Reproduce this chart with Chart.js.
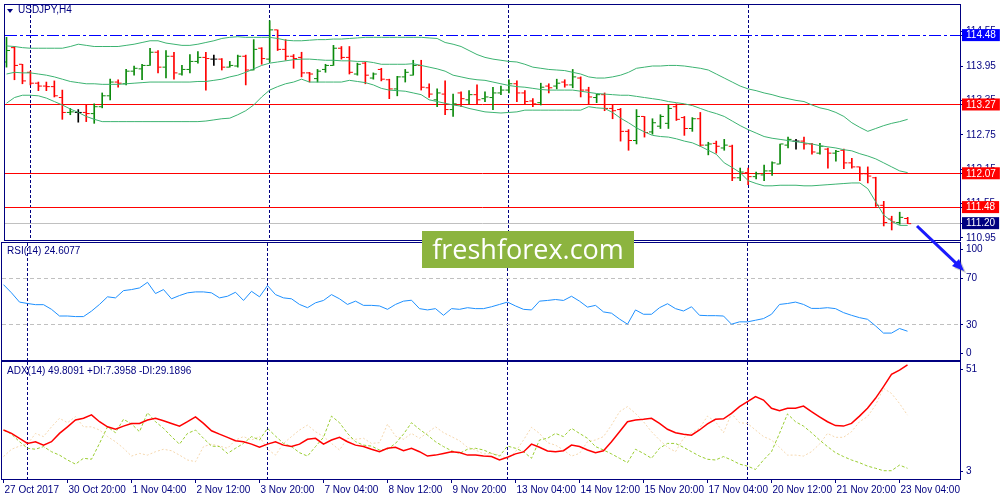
<!DOCTYPE html>
<html>
<head>
<meta charset="utf-8">
<title>USDJPY H4</title>
<script src="https://cdn.jsdelivr.net/npm/chart.js@4.4.1/dist/chart.umd.min.js"></script>
<style>
  html, body { margin: 0; padding: 0; background: #fff; }
  #wrap { position: relative; width: 1000px; height: 500px; overflow: hidden; }
  canvas { position: absolute; left: 0; }
  #cMain { top: 0; }
  #cRsi { top: 240px; }
  #cAdx { top: 360px; }
  .cap { position: absolute; color: #000080; font: 10px 'Liberation Sans', Arial, sans-serif; white-space: nowrap; }
  #tri { position: absolute; left: 7px; top: 9px; width: 0; height: 0;
         border-left: 3px solid transparent; border-right: 3px solid transparent; border-top: 4px solid #000080; }
  #sym { left: 18px; top: 4px; }
  #rsiCap { left: 7px; top: 245px; }
  #adxCap { left: 7px; top: 365px; }
  #logo { position: absolute; left: 422px; top: 231px; width: 212px; height: 37px; background: #8cb43f;
          color: #fff; font: 27px 'Open Sans', sans-serif; line-height: 36px; text-align: center; }
  #arrow { position: absolute; left: 0; top: 0; }
</style>
</head>
<body>
<div id="wrap">
  <canvas id="cMain" width="1000" height="250"></canvas>
  <canvas id="cRsi" width="1000" height="130"></canvas>
  <canvas id="cAdx" width="1000" height="140"></canvas>
  <div id="tri"></div>
  <div class="cap" id="sym">USDJPY,H4</div>
  <div class="cap" id="rsiCap">RSI(14) 24.6077</div>
  <div class="cap" id="adxCap">ADX(14) 49.8091 +DI:7.3958 -DI:29.1896</div>
  <div id="logo">freshforex.com</div>
  <svg id="arrow" width="1000" height="500">
    <g transform="translate(2,2)" opacity="0.3">
      <line x1="917" y1="226" x2="957" y2="264" stroke="#555" stroke-width="3"/>
      <polygon points="964,271 952,266 959,259" fill="#555"/>
    </g>
    <line x1="917" y1="226" x2="957" y2="264" stroke="#1a1aff" stroke-width="3"/>
    <polygon points="964,271 952,266 959,259" fill="#1a1aff"/>
  </svg>
</div>
<script>
// USDJPY H4, 27 Oct - 23 Nov 2017

const timeLabels = ['27 Oct 2017', '30 Oct 20:00', '1 Nov 04:00', '2 Nov 12:00', '3 Nov 20:00',
  '7 Nov 04:00', '8 Nov 12:00', '9 Nov 20:00', '13 Nov 04:00', '14 Nov 12:00', '15 Nov 20:00',
  '17 Nov 04:00', '20 Nov 12:00', '21 Nov 20:00', '23 Nov 04:00'];

const opens = [114.02,114.27,113.98,113.84,113.65,113.60,113.59,113.40,113.14,113.14,
  113.14,113.12,113.24,113.43,113.67,113.64,113.86,113.90,113.96,114.19,
  113.93,114.12,113.81,113.89,114.03,114.10,114.07,114.07,113.93,113.95,
  114.12,113.88,114.26,114.07,114.58,114.24,114.12,114.10,113.83,113.73,
  113.89,113.96,114.26,114.10,113.81,114.00,113.74,113.89,113.71,113.55,
  113.76,113.79,113.96,113.57,113.36,113.46,113.19,113.48,113.36,113.45,
  113.38,113.40,113.48,113.53,113.64,113.48,113.34,113.31,113.60,113.60,
  113.67,113.62,113.74,113.53,113.40,113.45,113.21,113.19,112.81,112.65,
  113.07,112.80,112.90,112.95,113.24,113.05,112.86,113.03,112.57,112.60,
  112.52,112.55,112.00,112.09,112.02,112.05,112.12,112.24,112.57,112.64,
  112.64,112.59,112.43,112.50,112.43,112.48,112.26,112.19,112.07,112.00,
  111.52,111.28,111.22,111.29];
const highs = [114.45,114.29,113.98,113.86,113.67,113.67,113.69,113.53,113.21,113.19,
  113.27,113.29,113.48,113.72,113.71,113.89,113.95,113.98,114.26,114.22,
  114.22,114.19,113.96,114.15,114.20,114.19,114.14,114.08,114.03,114.14,
  114.14,114.41,114.27,114.74,114.58,114.41,114.15,114.19,113.84,113.89,
  113.98,114.31,114.29,114.29,114.00,114.02,113.83,113.91,113.72,113.77,
  113.89,114.05,114.05,113.64,113.55,113.69,113.46,113.50,113.52,113.62,
  113.50,113.58,113.60,113.71,113.69,113.52,113.38,113.65,113.64,113.72,
  113.71,113.89,113.76,113.58,113.46,113.48,113.27,113.21,112.84,113.19,
  113.07,113.03,113.10,113.27,113.29,113.07,113.05,113.14,112.62,112.64,
  112.67,112.57,112.17,112.17,112.10,112.22,112.28,112.59,112.71,112.67,
  112.71,112.60,112.60,112.52,112.48,112.50,112.34,112.19,112.19,112.01,
  111.59,111.33,111.40,111.31];
const lows = [113.93,113.71,113.64,113.62,113.52,113.52,113.41,113.02,113.10,112.97,
  112.98,112.95,113.22,113.36,113.58,113.62,113.79,113.71,113.96,113.83,
  113.74,113.72,113.79,113.83,114.00,113.53,113.96,113.88,113.93,113.93,
  113.62,113.88,113.98,114.02,114.22,114.05,113.91,113.76,113.67,113.67,
  113.84,113.96,114.07,113.81,113.79,113.64,113.72,113.69,113.38,113.43,
  113.67,113.79,113.53,113.40,113.24,113.10,113.07,113.24,113.29,113.29,
  113.33,113.19,113.45,113.48,113.33,113.29,113.24,113.27,113.48,113.55,
  113.58,113.57,113.41,113.29,113.31,113.17,113.03,112.64,112.48,112.59,
  112.71,112.76,112.86,112.86,113.00,112.74,112.81,112.55,112.40,112.43,
  112.48,111.95,111.95,111.88,111.98,111.95,112.04,112.24,112.52,112.50,
  112.50,112.41,112.41,112.17,112.29,112.16,112.17,111.95,111.91,111.50,
  111.16,111.09,111.19,111.20];
const closes = [114.22,113.96,113.69,113.65,113.60,113.59,113.43,113.14,113.15,113.14,
  113.12,113.24,113.43,113.67,113.65,113.86,113.91,113.96,114.19,113.93,
  114.12,113.83,113.89,114.03,114.10,114.08,114.07,113.93,113.96,114.12,
  113.88,114.24,114.08,114.58,114.24,114.12,114.08,113.83,113.81,113.86,
  113.96,114.26,114.10,113.84,113.98,113.79,113.81,113.72,113.55,113.76,
  113.84,113.96,113.58,113.46,113.48,113.19,113.29,113.38,113.45,113.36,
  113.41,113.48,113.53,113.64,113.48,113.33,113.29,113.58,113.57,113.65,
  113.62,113.76,113.53,113.41,113.45,113.21,113.17,112.81,112.65,113.07,
  112.79,112.96,113.07,113.21,113.02,112.86,113.03,112.57,112.59,112.55,
  112.57,112.00,112.10,112.02,112.07,112.12,112.26,112.59,112.67,112.64,
  112.59,112.45,112.55,112.43,112.46,112.26,112.19,112.07,112.03,111.52,
  111.22,111.23,111.31,111.20];

// Bollinger bands
const bbUpper = [114.30,114.29,114.27,114.26,114.26,114.26,114.26,114.26,114.29,114.33,
  114.31,114.29,114.29,114.29,114.29,114.31,114.33,114.36,114.39,114.39,
  114.35,114.33,114.31,114.31,114.33,114.36,114.39,114.43,114.45,114.46,
  114.45,114.45,114.45,114.45,114.43,114.40,114.39,114.39,114.40,114.41,
  114.41,114.42,114.42,114.43,114.44,114.45,114.45,114.45,114.45,114.45,
  114.45,114.45,114.45,114.44,114.43,114.36,114.33,114.29,114.22,114.15,
  114.10,114.07,114.05,114.03,114.02,113.98,113.93,113.91,113.89,113.88,
  113.87,113.84,113.81,113.76,113.74,113.74,113.76,113.79,113.84,113.91,
  113.93,113.95,113.95,113.96,113.96,113.95,113.93,113.91,113.88,113.81,
  113.74,113.67,113.60,113.55,113.52,113.48,113.45,113.41,113.38,113.35,
  113.33,113.27,113.22,113.19,113.14,113.07,112.96,112.88,112.81,112.86,
  112.91,112.95,112.98,113.02];
const bbMiddle = [113.81,113.84,113.83,113.83,113.81,113.79,113.76,113.72,113.68,113.66,
  113.64,113.64,113.63,113.63,113.63,113.64,113.65,113.66,113.67,113.67,
  113.67,113.67,113.67,113.67,113.68,113.68,113.70,113.72,113.76,113.79,
  113.84,113.90,113.96,114.00,114.02,114.04,114.06,114.07,114.07,114.06,
  114.05,114.05,114.04,114.04,114.03,114.03,114.01,113.98,113.98,113.98,
  113.98,113.99,113.96,113.93,113.90,113.86,113.79,113.76,113.73,113.71,
  113.70,113.67,113.64,113.61,113.59,113.58,113.56,113.54,113.53,113.53,
  113.53,113.53,113.51,113.49,113.47,113.46,113.45,113.44,113.44,113.42,
  113.40,113.38,113.36,113.33,113.31,113.29,113.26,113.21,113.16,113.12,
  113.07,112.99,112.91,112.84,112.78,112.72,112.69,112.67,112.65,112.63,
  112.61,112.59,112.56,112.54,112.52,112.49,112.47,112.42,112.38,112.33,
  112.26,112.19,112.12,112.09];
const bbLower = [113.30,113.40,113.44,113.44,113.43,113.39,113.33,113.27,113.20,113.14,
  113.07,113.02,112.98,112.98,112.98,112.98,112.98,112.98,112.98,112.98,
  112.98,112.98,112.98,112.98,112.98,112.99,113.01,113.03,113.04,113.10,
  113.17,113.27,113.41,113.53,113.59,113.64,113.67,113.72,113.67,113.67,
  113.67,113.67,113.67,113.70,113.68,113.66,113.62,113.56,113.53,113.52,
  113.51,113.48,113.45,113.36,113.33,113.30,113.27,113.25,113.21,113.18,
  113.15,113.14,113.13,113.14,113.15,113.18,113.18,113.18,113.18,113.18,
  113.18,113.18,113.18,113.24,113.22,113.21,113.14,113.04,112.96,112.87,
  112.80,112.74,112.72,112.71,112.68,112.64,112.61,112.55,112.48,112.41,
  112.26,112.18,112.09,111.95,111.90,111.86,111.86,111.87,111.87,111.87,
  111.86,111.86,111.87,111.88,111.89,111.90,111.91,111.91,111.81,111.58,
  111.35,111.24,111.17,111.17];

const rsi = [64.4,57.4,49.5,48.3,47.3,47.3,43.3,37.6,37.6,37.1,
  37.1,41.8,47.5,54.0,53.1,59.3,60.2,61.6,66.4,56.8,
  60.2,52.3,55.1,57.4,58.2,58.2,57.4,53.1,54.5,57.9,
  50.9,58.7,54.0,63.6,55.9,53.1,52.3,47.5,44.7,48.9,
  50.9,55.9,52.3,47.5,50.3,46.7,46.7,46.2,43.3,47.5,
  50.3,51.1,43.9,42.8,43.9,38.2,43.9,43.3,44.7,43.9,
  43.9,45.5,47.5,49.5,46.2,43.3,42.8,50.3,50.9,51.7,
  50.9,54.5,50.3,45.2,46.7,41.1,40.0,35.0,30.6,42.8,
  39.1,39.1,44.7,48.1,43.9,41.9,45.5,38.2,37.9,37.9,
  37.6,30.6,32.6,32.6,34.0,35.4,39.1,47.5,48.3,49.5,
  47.5,44.1,44.1,44.7,43.9,40.5,38.2,36.2,34.8,29.2,
  23.0,23.0,26.9,24.6077];

const adx = [23.1,21.7,19.7,17.6,18.3,16.9,18.3,21.7,24.4,27.2,
  27.9,29.3,26.5,24.4,23.4,24.7,25.8,25.8,27.2,27.9,
  26.9,25.8,24.7,26.5,28.5,25.8,22.8,21.4,20.1,18.7,
  18.3,17.3,16.0,17.3,18.3,16.9,16.3,17.3,19.3,19.7,
  17.3,19.0,20.1,18.3,16.9,16.3,15.2,14.2,15.6,16.0,
  14.6,15.6,14.2,12.4,12.8,13.5,14.2,13.9,12.8,12.8,
  12.4,12.2,10.8,11.9,13.3,14.1,17.3,16.0,14.5,14.2,
  14.6,16.9,16.3,14.9,13.8,14.6,18.3,22.4,26.5,27.2,
  27.5,27.9,25.8,23.4,22.0,21.4,21.0,23.1,25.6,27.5,
  27.7,29.9,32.7,34.7,36.8,35.4,32.0,31.0,32.0,32.0,
  32.9,30.6,28.5,26.5,24.9,24.7,25.8,28.8,32.0,36.1,
  40.9,45.9,47.7,49.8091];
const plusDI = [23.1,21.4,18.3,15.6,15.2,16.3,14.2,12.8,10.8,9.1,
  11.5,11.1,17.6,24.4,22.0,27.5,25.6,22.4,30.2,26.5,
  23.8,20.4,17.3,21.7,23.1,19.7,16.5,16.3,13.5,15.6,
  17.6,20.4,19.0,23.8,20.6,17.6,16.3,13.8,12.4,16.3,
  20.1,28.8,26.1,21.7,18.3,16.9,16.5,14.9,15.2,17.6,
  21.4,26.1,23.4,21.0,18.3,16.3,14.6,13.5,15.2,15.6,
  14.9,13.5,12.4,16.5,15.6,14.2,11.5,19.0,19.7,21.7,
  20.4,23.8,21.7,19.7,16.3,14.9,13.3,11.5,9.7,15.2,
  13.5,11.5,15.6,17.6,17.6,16.0,14.2,12.4,11.1,10.8,
  12.2,10.8,9.1,8.3,6.9,10.8,14.2,21.7,29.7,26.5,
  24.7,22.0,19.0,16.3,13.8,12.2,10.8,9.7,8.3,7.4,
  6.4,6.4,8.7,7.3958];
const minusDI = [12.2,15.2,16.5,17.3,21.7,20.4,24.4,27.9,26.1,28.6,
  24.4,24.4,23.1,20.4,18.3,15.6,12.4,13.5,12.8,14.2,
  15.2,14.6,12.8,10.8,10.1,16.3,17.3,16.5,15.6,19.0,
  20.4,19.0,20.4,15.2,12.8,17.6,20.4,23.1,25.1,22.4,
  20.4,17.6,14.9,19.7,19.3,19.7,17.6,17.9,25.5,20.6,
  19.3,21.7,19.7,22.0,24.4,22.0,20.4,18.7,16.0,14.9,
  13.3,13.5,12.8,11.1,14.2,19.0,24.2,21.7,17.9,16.9,
  14.9,12.4,13.5,18.3,19.0,20.4,25.1,30.6,32.7,29.9,
  26.5,22.4,19.0,16.0,14.2,19.7,22.0,23.8,28.8,26.5,
  22.0,29.9,26.1,25.8,23.1,20.4,19.0,16.0,12.8,12.8,
  12.4,14.2,17.3,21.7,20.1,20.1,22.4,26.5,28.6,33.3,
  40.2,38.1,34.0,29.1896];

// price scale labels and the horizontal levels on the chart
const priceTicks = [114.55, 113.95, 113.35, 112.75, 112.15, 111.55, 110.95];
const levelPrices = [114.48, 113.27, 112.07, 111.48];
const levelColors = ['#0000ff', '#ff0000', '#ff0000', '#ff0000'];
const bidPrice = 111.20;
const rsiTicks = [100, 70, 30, 0];
const rsiLevels = [70, 30];
const adxTicks = [51, 3];

const NAVY = '#000080';
const GREEN = '#0b8a0b';
const RED = '#ff0000';
const BAND = '#3cb371';
const FONT = "'Liberation Sans', Arial, sans-serif";
const FSIZE = 10;
const X_MIN = -0.1875, X_MAX = 119.5625;   // 8px per bar, first bar at x=3.5
const gridBars = [3, 33, 63, 93];
const labelStep = 8;

const barColors = opens.map((o, i) => closes[i] > o ? GREEN : (closes[i] < o ? RED : '#000000'));
const pts = (arr, shift) => arr.map((v, i) => ({ x: i + (shift || 0), y: v }));

// panel border
const frame = {
  id: 'frame',
  afterDraw(chart) {
    const { ctx, chartArea: a } = chart;
    ctx.save();
    ctx.strokeStyle = NAVY;
    ctx.lineWidth = 1;
    ctx.strokeRect(a.left - 0.5, a.top - 0.5, a.right - a.left + 1, a.bottom - a.top + 1);
    ctx.restore();
  }
};

function noPad(s) { s.paddingLeft = s.paddingRight = s.paddingTop = s.paddingBottom = 0; }

function gridX() {
  return {
    type: 'linear', min: X_MIN, max: X_MAX, bounds: 'data', offset: false,
    ticks: { display: false },
    grid: { drawTicks: false, color: NAVY, lineWidth: 1, offset: false },
    border: { display: false, dash: [3, 2] },
    afterBuildTicks: s => { s.ticks = gridBars.map(v => ({ value: v })); },
    afterFit: s => { s.height = 0; noPad(s); }
  };
}

// styles: one entry per tick {value, label, text, box, line, dash}
function yAxis(min, max, styles) {
  const st = c => styles[c.index] || {};
  return {
    type: 'linear', position: 'right', min: min, max: max, bounds: 'data',
    afterBuildTicks: s => { s.ticks = styles.map(t => ({ value: t.value, label: t.label })); },
    afterFit: s => { s.width = 40; noPad(s); },
    ticks: {
      autoSkip: false, padding: 3,
      font: { family: FONT, size: FSIZE, lineHeight: 1.1 },
      color: c => st(c).text || NAVY,
      callback: (v, i, t) => t[i].label,
      showLabelBackdrop: c => !!st(c).box,
      backdropColor: c => st(c).box || 'rgba(0,0,0,0)',
      backdropPadding: { left: 4, right: 4, top: 1, bottom: 0 }
    },
    grid: {
      drawOnChartArea: true, drawTicks: true, tickLength: 3, offset: false,
      tickColor: NAVY, tickWidth: 1, tickBorderDash: [],
      color: c => st(c).line || 'rgba(0,0,0,0)', lineWidth: 1
    },
    border: { display: false, dash: c => st(c).dash || [] }
  };
}

// inset the top/bottom labels like the terminal does
function edgeStyles(values, min, max, inset, lineFor) {
  return values.map(v => ({
    value: Math.min(max - inset, Math.max(min + inset, v)),
    label: String(v), text: NAVY,
    line: lineFor(v), dash: [4, 3]
  }));
}

const baseOptions = {
  responsive: false, animation: false, devicePixelRatio: 1, events: [],
  plugins: { legend: { display: false }, tooltip: { enabled: false } },
  elements: { point: { radius: 0 }, line: { tension: 0 } }
};

function makeChart(id, data, scales, padding) {
  return new Chart(document.getElementById(id), {
    type: 'line',
    data: data,
    plugins: [frame],
    options: Object.assign({}, baseOptions, { layout: { padding: padding }, scales: scales })
  });
}

// ---- price panel ----
const mainStyles = [
  ...priceTicks.map(p => ({ value: p, label: p.toFixed(2), text: NAVY })),
  ...levelPrices.map((p, k) => ({ value: p, label: p.toFixed(2), text: '#ffffff', box: levelColors[k],
      line: levelColors[k], dash: k === 0 ? [12, 3, 3, 3] : [] })),
  { value: bidPrice, label: bidPrice.toFixed(2), text: '#ffffff', box: NAVY, line: '#c0c0c0', dash: [] }
];

const bandDs = (arr) => ({ data: pts(arr), borderColor: BAND, borderWidth: 1, pointRadius: 0 });
const tickDs = (arr, shift) => ({
  data: pts(arr, shift), showLine: false, pointStyle: 'line', pointRadius: 1.5,
  pointBorderWidth: 1, pointBorderColor: barColors, pointBackgroundColor: barColors
});

makeChart('cMain', {
  datasets: [
    bandDs(bbUpper), bandDs(bbMiddle), bandDs(bbLower),
    tickDs(opens, -0.25), tickDs(closes, 0.25),
    { type: 'bar', data: lows.map((l, i) => ({ x: i, y: [l, highs[i]] })),
      backgroundColor: barColors, borderWidth: 0, barThickness: 1 }
  ]
}, { x: gridX(), y: yAxis(110.915, 115.014, mainStyles) }, { left: 2, top: 2, right: 0, bottom: 10 });

// ---- RSI panel ----
makeChart('cRsi', {
  datasets: [{ data: pts(rsi), borderColor: '#1e90ff', borderWidth: 1, pointRadius: 0 }]
}, {
  x: gridX(),
  y: yAxis(0, 100, edgeStyles(rsiTicks, 0, 100, 5.5, v => rsiLevels.includes(v) ? '#c0c0c0' : 'rgba(0,0,0,0)'))
}, { left: 2, top: 3, right: 0, bottom: 10 });

// ---- ADX panel ----
makeChart('cAdx', {
  datasets: [
    { data: pts(adx), borderColor: '#ff0000', borderWidth: 1.5, pointRadius: 0 },
    { data: pts(plusDI), borderColor: '#9acd32', borderWidth: 1, borderDash: [3, 2], pointRadius: 0 },
    { data: pts(minusDI), borderColor: '#f5d7ae', borderWidth: 1, borderDash: [2, 2], pointRadius: 0 }
  ]
}, {
  x: {
    type: 'linear', position: 'bottom', min: X_MIN, max: X_MAX, bounds: 'data', offset: false,
    afterBuildTicks: s => { s.ticks = timeLabels.map((_, k) => ({ value: k * labelStep })); },
    afterFit: s => { s.height = 21; noPad(s); },
    ticks: {
      autoSkip: false, maxRotation: 0, minRotation: 0, align: 'start', labelOffset: 1, padding: 1,
      color: NAVY, font: { family: FONT, size: FSIZE },
      callback: (v, i) => timeLabels[i]
    },
    grid: { drawOnChartArea: false, drawTicks: true, tickLength: 4, tickColor: NAVY, tickWidth: 1, offset: false },
    border: { display: false }
  },
  xg: gridX(),
  y: yAxis(3, 51, edgeStyles(adxTicks, 3, 51, 3, () => 'rgba(0,0,0,0)'))
}, { left: 2, top: 2, right: 0, bottom: 0 });
</script>
</body>
</html>
